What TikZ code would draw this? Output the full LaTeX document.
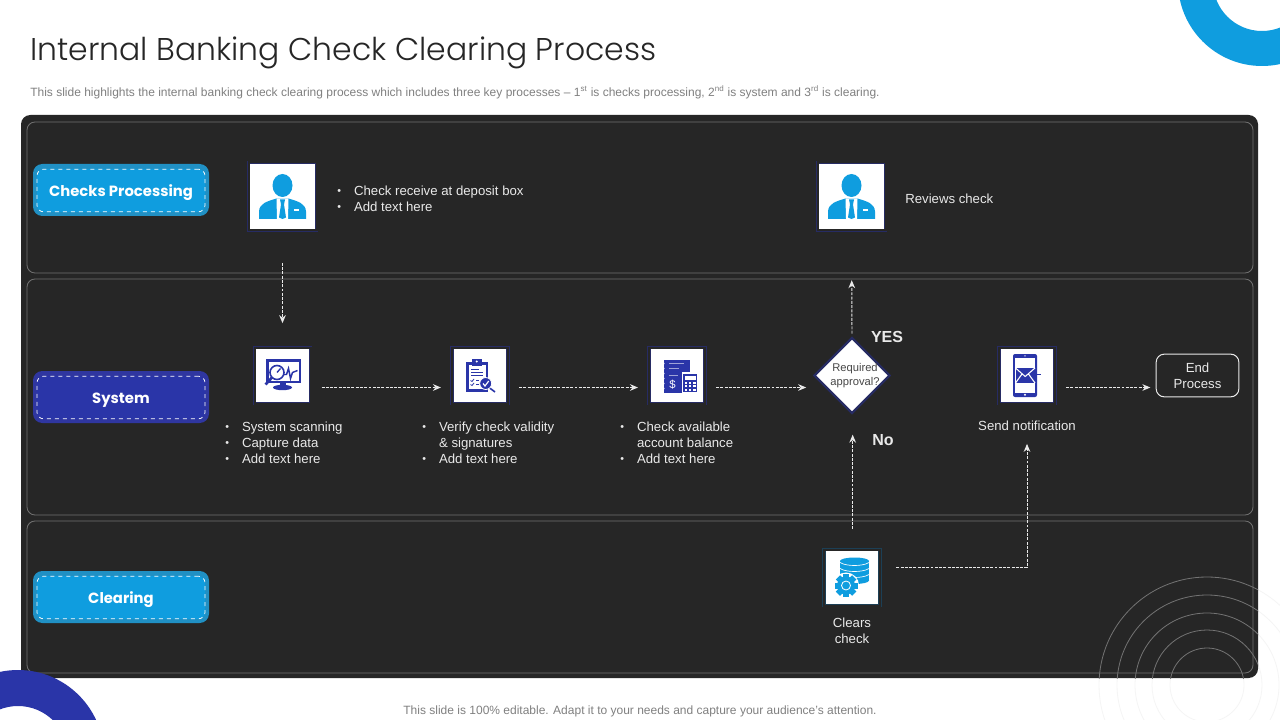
\documentclass[tikz,border=0pt]{standalone}
\usepackage{fontspec}
\setmainfont{Liberation Sans}
\newfontfamily\headfont{Poppins Light}
\newfontfamily\lanefont{Poppins}
\usepackage{tikz}
\usetikzlibrary{arrows.meta, shapes.geometric, positioning}

\definecolor{panelgray}{HTML}{262626}
\definecolor{lanegray}{HTML}{707070}
\definecolor{skyblue}{HTML}{0F9DDF}
\definecolor{skyedge}{HTML}{2090C4}
\definecolor{royalblue}{HTML}{2A35A8}
\definecolor{royaledge}{HTML}{2F36A0}
\definecolor{iconedge}{HTML}{262B63}
\definecolor{tealedge}{HTML}{1C3F55}
\definecolor{captiongray}{HTML}{E9E9E9}
\definecolor{notegray}{HTML}{808080}

\newcommand{\itm}{\makebox[12.6pt][l]{\fontsize{8}{8}\selectfont\raisebox{0.8pt}{•}}}
\newcommand{\itmgap}{\hspace*{12.6pt}}

\tikzset{
	lane/.style={draw=lanegray, line width=0.65pt, rounded corners=6pt},
	lanebox/.style={rounded corners=7pt, minimum width=132pt, minimum height=39pt, inner sep=0pt},
	lanetext/.style={draw=white, dashed, line width=0.55pt, rounded corners=5pt, minimum width=126pt,
		minimum height=32pt, inner sep=0pt, text=white, text height=8.6pt, text depth=0pt,
		font=\lanefont\bfseries\fontsize{11.1}{14}\selectfont},
	iconbox/.style={fill=white, draw=iconedge, line width=0.6pt, double=panelgray, double distance=1.5pt,
		minimum size=#1, inner sep=0pt},
	iconbox/.default=42pt,
	caption/.style={text=captiongray, inner sep=0pt, align=left, font=\fontsize{9.9}{12}\selectfont},
	flowarrow/.style={draw=captiongray, line width=0.7pt, densely dashed, dash pattern=on 2.2pt off 1pt,
		-{Stealth[length=6pt, width=5pt]}},
	% icons, drawn around the middle of their box
	personicon/.pic={
		\fill[skyblue] (0,-11) ellipse [x radius=10, y radius=11.5];
		\fill[skyblue] (-23.5,22.5) -- (-23.5,15) .. controls (-23,7) and (-16,5) .. (-6,2) -- (6,2)
			.. controls (16,5) and (23,7) .. (23.5,15) -- (23.5,22.5) -- cycle;
		\fill[white] (-6,2) -- (6,2) -- (5.5,22.5) -- (-5.5,22.5) -- cycle;
		\fill[skyblue] (-2.5,3) -- (2.5,3) -- (1.5,8) -- (3.5,21) -- (0,22.5) -- (-3.5,21) -- (-1.5,8) -- cycle;
		\fill[white] (11,13) rectangle (16,14.5);
	},
	scanicon/.pic={
		\draw[royalblue, line width=2pt, fill=white] (-15,-15) rectangle (17.5,6.5);
		\fill[royalblue] (-3,6.5) rectangle (3,10);
		\fill[royalblue] (0,12) ellipse [x radius=9.5, y radius=2.7];
		\draw[royalblue, line width=1.1pt] (0,-1) -- (4,-1) -- (6,-7) -- (8,3) -- (10,-3) -- (15,-5);
		\draw[royalblue, line width=1.2pt, fill=white] (-5.5,-3) circle [radius=7];
		\draw[royalblue, line width=1pt] (-5.5,-3) -- (-2,-7);
		\draw[royalblue, line width=2pt] (-10.5,2) -- (-17,9);
	},
	verifyicon/.pic={
		\fill[royalblue] (-14,-14) rectangle (8,16);
		\fill[white] (-11.5,-10.5) rectangle (5.5,13.5);
		\fill[royalblue] (-8,-16.5) rectangle (1.5,-10);
		\fill[white] (-3.2,-14) circle [radius=1.1];
		\foreach \liney/\lineend in {-6/-1, -3/3, 0/3} {
			\draw[royalblue, line width=0.8pt] (-9,\liney) -- (\lineend,\liney);
		}
		\foreach \liney in {5,9} {
			\draw[royalblue, line width=0.6pt] (-9.5,\liney) -- (-8,\liney+1) -- (-6,\liney-1.5);
			\draw[royalblue, line width=0.6pt] (-4,\liney) -- (-1,\liney);
		}
		\draw[royalblue, line width=1.2pt] (9,12) -- (15,16.5);
		\fill[royalblue, draw=white, line width=0.6pt] (5.7,8) circle [radius=6];
		\draw[white, line width=0.9pt] (3,8) -- (5,10.5) -- (8.7,5.5);
	},
	balanceicon/.pic={
		\fill[royalblue] (-13,-16) rectangle (13,17.5);
		\foreach \liney/\lineend in {-12/7, -7/2, 0/1} {
			\draw[white, opacity=0.55, line width=0.6pt] (-8,\liney) -- (\lineend,\liney);
		}
		\foreach \liney in {-12,-7,...,13} {
			\fill[white, opacity=0.6] (-13,\liney) circle [radius=0.9];
		}
		\node (dollar) [text=white, inner sep=0pt, font=\fontsize{8.5}{9}\selectfont] at (-4.5,9) {\$};
		\fill[royalblue, draw=white, line width=0.8pt] (5.5,-2.5) rectangle (21,17.5);
		\fill[white] (8,0) rectangle (18.5,4);
		\foreach \keyx in {9,13.2,17.4} {
			\foreach \keyy in {7,10.5,14} {
				\fill[white] (\keyx-1.1,\keyy-1) rectangle (\keyx+1.1,\keyy+1);
			}
		}
	},
	mobileicon/.pic={
		\fill[royalblue, rounded corners=1.5pt] (-14,-21.5) rectangle (10,21.5);
		\fill[white] (-12,-17.5) rectangle (8,17);
		\fill[white] (-2,-19.6) circle [radius=0.7];
		\fill[white] (-2,19.3) circle [radius=1.1];
		\fill[royalblue] (-11.5,-7.5) rectangle (8,7.5);
		\draw[white, line width=0.8pt] (-11.5,-7.5) -- (-1.8,1) -- (8,-7.5) (-11.5,7.5) -- (-5,-1.5) (8,7.5) -- (1.5,-1.5);
		\draw[royalblue, line width=1.2pt] (8,-1) -- (13.5,-1);
	},
	dataicon/.pic={
		\fill[skyblue] (-12,-16.5) rectangle (17,3);
		\fill[skyblue] (2.5,3) ellipse [x radius=14.5, y radius=3.5];
		\fill[skyblue] (2.5,-16.5) ellipse [x radius=14.5, y radius=3.5];
		\foreach \disky in {-15,-9,-3} {
			\draw[white, line width=0.5pt] (-12,\disky) .. controls (-6,\disky+4) and (11,\disky+4) .. (17,\disky);
		}
		\fill[white] (-6,8) circle [radius=13];
		\foreach \toothangle in {0,45,...,315} {
			\fill[skyblue, rotate around={\toothangle:(-6,8)}] (-9,-3.5) rectangle (-3,1);
		}
		\fill[skyblue] (-6,8) circle [radius=9];
		\draw[white, line width=0.6pt] (-6,8) circle [radius=4.5];
	},
}

\begin{document}
\begin{tikzpicture}[x=0.75pt, y=-0.75pt, node distance=12pt]
	\path[use as bounding box, fill=white] (0,0) rectangle (1280,720);
	\clip (0,0) rectangle (1280,720);

	% pale rings on the white page
	\foreach \ringr in {37,55,72,90,108} {
		\draw[black!4, line width=0.6pt] (1207,685) circle [radius=\ringr];
	}

	% panel and lanes
	\fill[panelgray, rounded corners=7pt] (21,115) rectangle (1258,678);
	\begin{scope}
		\clip (21,115) rectangle (1258,678);
		\foreach \ringr in {37,55,72,90,108} {
			\draw[black!55, line width=0.6pt] (1207,685) circle [radius=\ringr];
		}
	\end{scope}
	\draw[lane] (27,122) rectangle (1253,273);
	\draw[lane] (27,279) rectangle (1253,515);
	\draw[lane] (27,521) rectangle (1253,673);

	% corner rings
	\fill[skyblue, even odd rule] (1262,-18) circle [radius=84] (1262,-18) circle [radius=49];
	\fill[royalblue, even odd rule] (18,756) circle [radius=86] (18,756) circle [radius=50];

	% heading
	\node (title) [anchor=west, inner sep=0pt, text=panelgray, font=\headfont\fontsize{23.6}{28}\selectfont] at (30,53)
		{Internal Banking Check Clearing Process};
	\node (subtitle) [anchor=west, inner sep=0pt, text=notegray, font=\fontsize{9}{11}\selectfont] at (30,92.5)
		{This slide highlights the internal banking check clearing process which includes three key processes -- 1\textsuperscript{st} is checks processing, 2\textsuperscript{nd} is system and 3\textsuperscript{rd} is clearing.};
	\node (footer) [inner sep=0pt, text=notegray, font=\fontsize{9}{11}\selectfont] at (640,711)
		{This slide is 100\% editable. Adapt it to your needs and capture your audience's attention.};

	% lane names
	\node (checksback) [lanebox, fill=skyedge] at (121,190) {};
	\node (checks) [lanetext, fill=skyblue] at (121,190.5) {Checks Processing};
	\node (systemback) [lanebox, fill=royaledge] at (121,397) {};
	\node (system) [lanetext, fill=royalblue] at (121,397.5) {System};
	\node (clearingback) [lanebox, fill=skyedge] at (121,597) {};
	\node (clearing) [lanetext, fill=skyblue] at (121,597.5) {Clearing};

	% steps
	\node (deposit) [iconbox=51pt] at (282.5,196.5) {};
	\node (reviews) [iconbox=51pt] at (851.5,196.5) {};
	\node (scan) [iconbox] at (282.5,375.5) {};
	\node (verify) [iconbox] at (480,375.5) {};
	\node (balance) [iconbox] at (677,375.5) {};
	\node (mobile) [iconbox] at (1027,375.5) {};
	\node (clears) [iconbox, draw=tealedge] at (852,577.5) {};
	\node (approval) [diamond, fill=white, draw=iconedge, line width=1.8pt, inner sep=0pt, minimum size=57pt] at (852,375.5) {};
	\node (endprocess) [draw=captiongray, line width=0.75pt, rounded corners=6pt, minimum width=62pt, minimum height=32pt,
		inner sep=0pt, align=center, text=captiongray, font=\fontsize{9.9}{12}\selectfont] at (1197.5,375.5) {End\\Process};

	\pic at (deposit) {personicon};
	\pic at (reviews) {personicon};
	\pic at (scan) {scanicon};
	\pic at (verify) {verifyicon};
	\pic at (balance) {balanceicon};
	\pic at (mobile) {mobileicon};
	\pic at (clears) {dataicon};

	% captions
	\node (deposittext) [caption, anchor=west] at (337,199) {\itm Check receive at deposit box\\\itm Add text here};
	\node (reviewstext) [caption, anchor=west] at (905,199) {Reviews check};
	\node (scantext) [caption, anchor=west] at (225,443) {\itm System scanning\\\itm Capture data\\\itm Add text here};
	\node (verifytext) [caption, anchor=west] at (422,443) {\itm Verify check validity\\\itmgap\& signatures\\\itm Add text here};
	\node (balancetext) [caption, anchor=west] at (620,443) {\itm Check available\\\itmgap account balance\\\itm Add text here};
	\node (mobiletext) [caption, below=12.5pt of mobile] {Send notification};
	\node (clearstext) [caption, align=center, below=9pt of clears] {Clears\\check};
	\node (approvaltext) [inner sep=0pt, align=center, text=panelgray!85, font=\fontsize{8.4}{10.5}\selectfont] at (855,376) {Required\\approval?};
	\node (yes) [inner sep=0pt, text=captiongray, font=\bfseries\fontsize{12}{14}\selectfont] at (887,337) {YES};
	\node (no) [inner sep=0pt, text=captiongray, font=\bfseries\fontsize{12}{14}\selectfont] at (883,440) {No};

	% connectors
	\draw[flowarrow, shorten <=24pt, shorten >=18pt] (deposit.south) -- (scan.north);
	\draw[flowarrow, shorten <=8pt, shorten >=8pt] ([yshift=-9pt]scan.east) -- ([yshift=-9pt]verify.west);
	\draw[flowarrow, shorten <=8pt, shorten >=8pt] ([yshift=-9pt]verify.east) -- ([yshift=-9pt]balance.west);
	\draw[flowarrow, shorten <=8pt, shorten >=5pt] ([yshift=-9pt]balance.east) -- ([yshift=-9pt]approval.west);
	\draw[flowarrow, shorten <=8pt, shorten >=4pt] ([yshift=-9pt]mobile.east) -- ([yshift=-9pt]endprocess.west);
	\draw[flowarrow, shorten <=2pt, shorten >=37pt] (approval.north) -- (reviews.south);
	\draw[flowarrow, shorten <=15pt, shorten >=15pt] ([xshift=0.5pt]clears.north) -- ([xshift=0.5pt]approval.south);
	\draw[flowarrow, shorten <=12pt, shorten >=30pt] ([yshift=7.5pt]clears.east) -| (mobile.south);
\end{tikzpicture}
\end{document}
